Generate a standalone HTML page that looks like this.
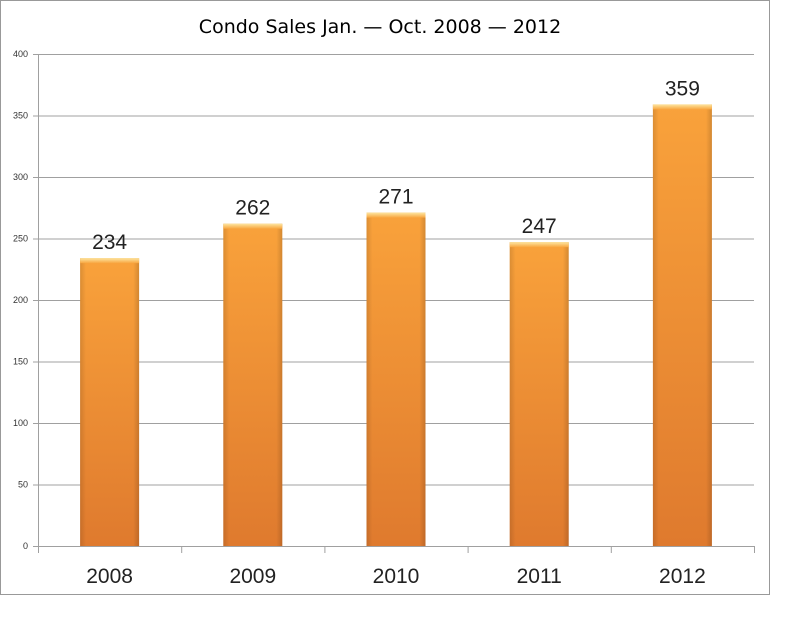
<!DOCTYPE html>
<html><head><meta charset="utf-8"><style>
body{margin:0;background:#fff;}
svg{display:block;}
</style></head><body>
<svg id="chart" width="789" height="637" xmlns="http://www.w3.org/2000/svg" font-family="Liberation Sans, sans-serif">
<defs>
<linearGradient id="gv" x1="0" y1="0" x2="0" y2="1">
<stop offset="0" stop-color="#f9a23b"/><stop offset="1" stop-color="#df7a2e"/>
</linearGradient>
<linearGradient id="gh" x1="0" y1="0" x2="1" y2="0">
<stop offset="0" stop-color="#000" stop-opacity="0.12"/><stop offset="0.1" stop-color="#000" stop-opacity="0"/>
<stop offset="0.9" stop-color="#000" stop-opacity="0"/><stop offset="1" stop-color="#000" stop-opacity="0.15"/>
</linearGradient>
<linearGradient id="gc" x1="0" y1="0" x2="0" y2="1">
<stop offset="0" stop-color="#fde6a0"/><stop offset="1" stop-color="#f8a640"/>
</linearGradient>
</defs>
<rect x="0.5" y="0.5" width="769" height="594" fill="#fff" stroke="#999"/>
<text x="380" y="33" font-size="19" font-family="DejaVu Sans, sans-serif" text-anchor="middle" fill="#000">Condo Sales Jan. — Oct. 2008 — 2012</text>
<g id="grid"></g>
<g id="bars"></g>
</svg>
<script>
const categories=["2008","2009","2010","2011","2012"];
const values=[234,262,271,247,359];
const ticks=[0,50,100,150,200,250,300,350,400];
const NS="http://www.w3.org/2000/svg";
const x0=38,x1=754,y0=546,yTop=54,vmax=400;
const y=v=>y0-(v/vmax)*(y0-yTop);
const bw=(x1-x0)/categories.length;
const xc=i=>x0+bw*(i+0.5);
function mk(t,a,p){const e=document.createElementNS(NS,t);for(const k in a)e.setAttribute(k,a[k]);p.appendChild(e);return e;}
const grid=document.getElementById('grid'),bars=document.getElementById('bars');
ticks.forEach(t=>{
 const l=mk('line',{x1:x0-5,x2:x1,y1:y(t)+0.5,y2:y(t)+0.5,stroke:'#a0a0a0','stroke-width':1},grid);
 
 
 const tx=mk('text',{x:28,y:y(t)+3,'font-size':9,'text-anchor':'end',fill:'#333'},grid);
 tx.textContent=t;
 
 
});
const ax=mk('line',{x1:x0+0.5,x2:x0+0.5,y1:yTop,y2:y0+6,stroke:'#a0a0a0'},grid);


for(let i=0;i<=categories.length;i++){
 const tk=mk('line',{x1:x0+bw*i+0.5,x2:x0+bw*i+0.5,y1:y0,y2:y0+7,stroke:'#a0a0a0'},grid);
 
 
}
categories.forEach((c,i)=>{
 const w=59,bx=xc(i)-w/2,by=y(values[i]),h=y0-by;
 const r=mk('rect',{x:bx,y:by,width:w,height:h,fill:'url(#gv)'},bars);
 
 
 const s=mk('rect',{x:bx,y:by,width:w,height:h,fill:'url(#gh)'},bars);
 
 
 const cap=mk('rect',{x:bx,y:by,width:w,height:5,fill:'url(#gc)'},bars);
 
 
 const vl=mk('text',{x:xc(i),y:by-9,'font-size':21,'text-anchor':'middle',fill:'#222'},bars);
 vl.textContent=values[i];
 
 
 const cl=mk('text',{x:xc(i),y:583,'font-size':21,'text-anchor':'middle',fill:'#222'},bars);
 cl.textContent=c;
 
 
});
</script>
</body></html>
